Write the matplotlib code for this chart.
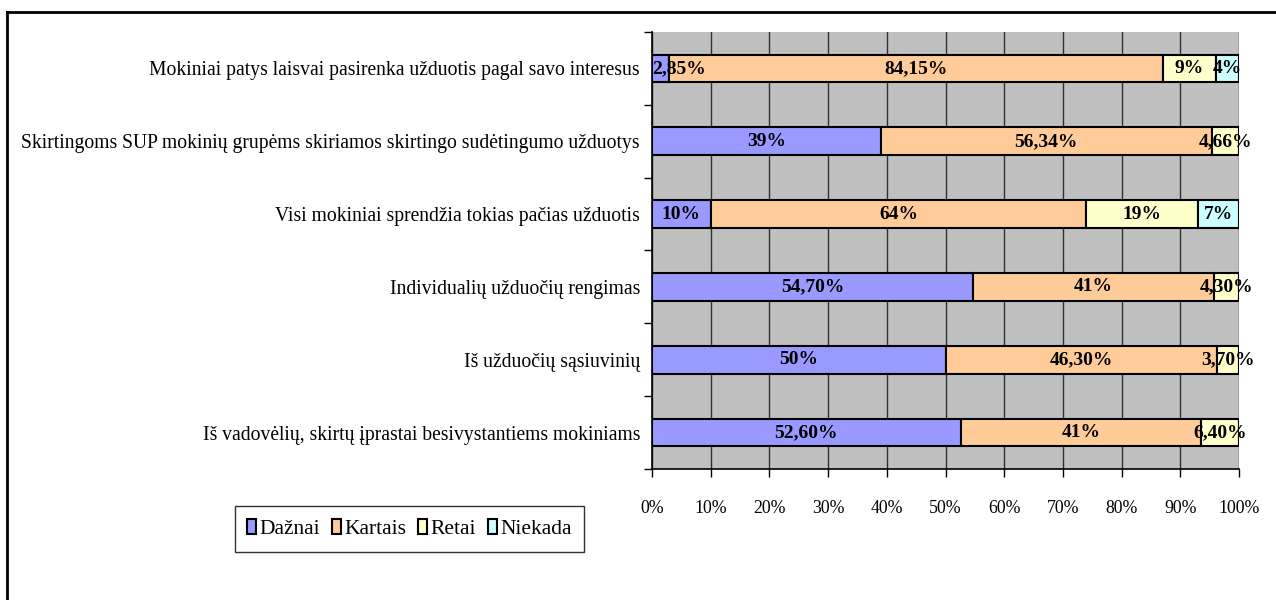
import matplotlib
matplotlib.use("Agg")
import matplotlib.pyplot as plt
from matplotlib.lines import Line2D
from matplotlib.ticker import MultipleLocator, PercentFormatter

categories = [
    "Mokiniai patys laisvai pasirenka užduotis pagal savo interesus",
    "Skirtingoms SUP mokinių grupėms skiriamos skirtingo sudėtingumo užduotys",
    "Visi mokiniai sprendžia tokias pačias užduotis",
    "Individualių užduočių rengimas",
    "Iš užduočių sąsiuvinių",
    "Iš vadovėlių, skirtų įprastai besivystantiems mokiniams",
]
series_names = ["Dažnai", "Kartais", "Retai", "Niekada"]
dazniai = [2.85, 39, 10, 54.70, 50, 52.60]
kartais = [84.15, 56.34, 64, 41, 46.30, 41]
retai = [9, 4.66, 19, 4.30, 3.70, 6.40]
niekada = [4, 0, 7, 0, 0, 0]
colors = ["#9999FF", "#FFCC99", "#FFFFCC", "#CCFFFF"]


def fmt(v):
    # integers without decimals, the rest with two, comma as separator
    if v == int(v):
        return "%d%%" % v
    return ("%.2f%%" % v).replace(".", ",")


plt.rcParams["font.family"] = ["Liberation Serif", "DejaVu Serif"]

fig = plt.figure(figsize=(12.76, 6), dpi=100)
ax = fig.add_axes([652 / 1276, 1 - 469 / 600, (1239 - 652) / 1276, (469 - 32) / 600])
ax.set_facecolor("#C0C0C0")

# outer chart frame (left and top edges visible)
fig.add_artist(Line2D([7 / 1276, 7 / 1276], [0, 1 - 12 / 600], color="black", lw=2,
                      transform=fig.transFigure))
fig.add_artist(Line2D([7 / 1276, 1], [1 - 12 / 600, 1 - 12 / 600], color="black", lw=2,
                      transform=fig.transFigure))

ypos = list(range(len(categories)))
left = [0] * len(categories)
all_series = [dazniai, kartais, retai, niekada]
for i in range(len(all_series)):
    vals = all_series[i]
    ax.barh(ypos, vals, left=left, height=0.38, color=colors[i], edgecolor="black",
            linewidth=1.5, label=series_names[i], zorder=3)
    for j in range(len(vals)):
        if vals[j] <= 0:
            continue
        # a tiny first segment: keep the label inside the plot, like excel does
        if left[j] == 0 and vals[j] < 5:
            ax.text(0, ypos[j], fmt(vals[j]), ha="left", va="center",
                    fontsize=14, fontweight="bold", zorder=4)
        else:
            ax.text(left[j] + vals[j] / 2, ypos[j], fmt(vals[j]), ha="center", va="center",
                    fontsize=14, fontweight="bold", zorder=4)
    left = [left[k] + vals[k] for k in range(len(vals))]

ax.set_xlim(0, 100)
ax.set_ylim(len(categories) - 0.5, -0.5)
ax.xaxis.set_major_locator(MultipleLocator(10))
ax.xaxis.set_major_formatter(PercentFormatter(decimals=0))
ax.grid(axis="x", color="#303030", lw=1, zorder=1)

ax.set_yticks(ypos)
ax.set_yticklabels(categories, fontsize=14.1)
ax.set_yticks([y - 0.5 for y in ypos] + [len(categories) - 0.5], minor=True)
ax.tick_params(axis="y", which="major", length=0, pad=8.6)
ax.tick_params(axis="y", which="minor", length=6, width=1)
ax.tick_params(axis="x", length=6, width=1, pad=16, labelsize=12.8)

for s in ["top", "right"]:
    ax.spines[s].set_visible(False)
ax.spines["left"].set_linewidth(1.2)
ax.spines["bottom"].set_linewidth(1.2)

leg = fig.legend(loc="center", bbox_to_anchor=(409.5 / 1276, 1 - 529 / 600), ncol=4,
                 fontsize=15.5, frameon=True, fancybox=False, handlelength=0.42,
                 handleheight=0.7, handletextpad=0.15, columnspacing=0.55,
                 borderpad=0.58, borderaxespad=0, edgecolor="black")
leg.get_frame().set_linewidth(1)
for h in leg.legend_handles:
    h.set_linewidth(1.5)

fig.savefig("out.png", dpi=100)
